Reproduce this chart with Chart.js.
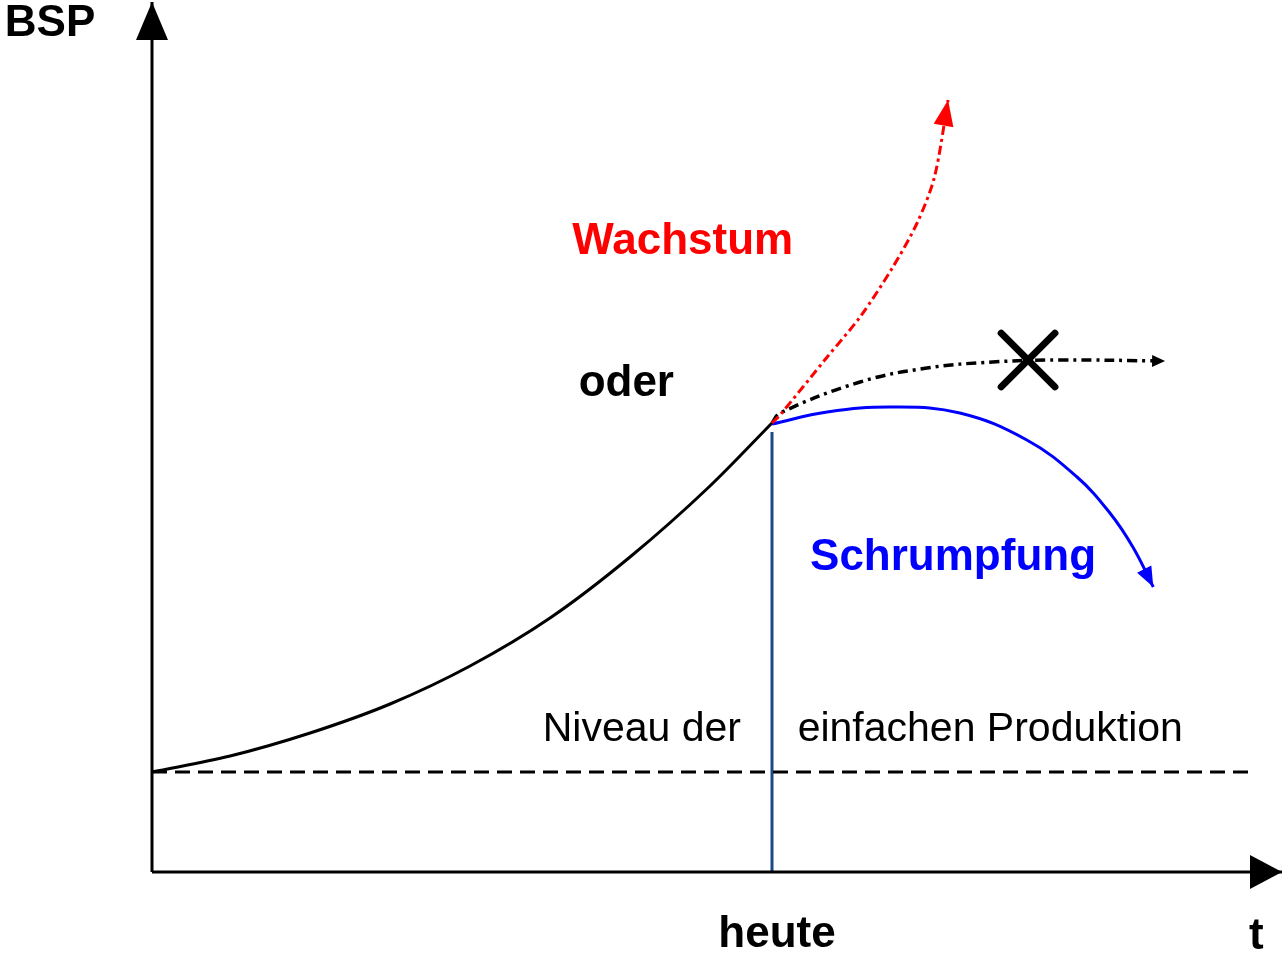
<!DOCTYPE html>
<html>
<head>
<meta charset="utf-8">
<script src="https://cdn.jsdelivr.net/npm/chart.js@4"></script>
<style>
  body { margin: 0; background: #fff; }
  canvas { display: block; }
</style>
</head>
<body>
<canvas id="chart" width="1282" height="955"></canvas>
<script>
// growth curve up to "heute"
const mainX = [0, 1.26, 2.55, 3.84, 5.13, 6.42, 7.71, 9.0, 10];
const mainY = [1.0, 1.16, 1.39, 1.68, 2.06, 2.54, 3.15, 3.86, 4.49];
// Wachstum (red)
const growX = [10, 10.13, 10.89, 11.42, 11.95, 12.34, 12.62, 12.84];
const growY = [4.49, 4.57, 5.15, 5.55, 6.05, 6.49, 6.95, 7.72];
// crossed-out steady path (black)
const flatX = [10, 10.13, 11.42, 12.5, 13.56, 14.65, 16.34];
const flatY = [4.49, 4.59, 4.90, 5.04, 5.10, 5.12, 5.11];
// Schrumpfung (blue)
const shrinkX = [10, 10.89, 11.95, 13.03, 14.11, 14.92, 15.45, 15.82, 16.15];
const shrinkY = [4.48, 4.60, 4.65, 4.59, 4.32, 3.95, 3.59, 3.25, 2.85];
// level of simple production, heute, cross mark
const niveau = 1;
const heute = 10;
const crossPoint = { x: 14.13, y: 5.12 };

const pts = (xs, ys) => xs.map((x, i) => ({ x: x, y: ys[i] }));

const font = 'Arial, "Liberation Sans", sans-serif';

const diagramPlugin = {
  id: 'diagram',
  beforeDatasetDraw(chart, args) {
    if (args.index === 7) chart.ctx.lineCap = 'round';
  },
  afterDatasetDraw(chart, args) {
    if (args.index === 7) chart.ctx.lineCap = 'butt';
  },
  afterDraw(chart) {
    const ctx = chart.ctx;
    const xs = chart.scales.x, ys = chart.scales.y;
    const px = v => xs.getPixelForValue(v);
    const py = v => ys.getPixelForValue(v);

    function arrowHead(index, color, len, half) {
      const data = chart.getDatasetMeta(index).data;
      const a = data[data.length - 2], b = data[data.length - 1];
      const ang = Math.atan2(b.y - a.y, b.x - a.x);
      ctx.save();
      ctx.translate(b.x, b.y);
      ctx.rotate(ang);
      ctx.fillStyle = color;
      ctx.beginPath();
      ctx.moveTo(0, 0);
      ctx.lineTo(-len, -half);
      ctx.lineTo(-len, half);
      ctx.closePath();
      ctx.fill();
      ctx.restore();
    }
    arrowHead(0, '#000', 38, 16);
    arrowHead(1, '#000', 32, 17);
    arrowHead(4, '#ff0000', 26, 10);
    arrowHead(5, '#000', 13, 6);
    arrowHead(6, '#0000ff', 20, 8);

    const labels = [
      { t: 'BSP', x: -1.645, y: 8.48, c: '#000', b: true },
      { t: 'Wachstum', x: 8.56, y: 6.30, c: '#ff0000', b: true },
      { t: 'oder', x: 7.65, y: 4.88, c: '#000', b: true },
      { t: 'Schrumpfung', x: 12.92, y: 3.14, c: '#0000ff', b: true },
      { t: 'Niveau der', x: 7.90, y: 1.42, c: '#000', b: false },
      { t: 'einfachen Produktion', x: 13.52, y: 1.42, c: '#000', b: false },
      { t: 'heute', x: 10.08, y: -0.63, c: '#000', b: true },
      { t: 't', x: 17.81, y: -0.65, c: '#000', b: true }
    ];
    ctx.save();
    ctx.textAlign = 'center';
    ctx.textBaseline = 'middle';
    labels.forEach(l => {
      ctx.font = (l.b ? 'bold 44px ' : '41px ') + font;
      ctx.fillStyle = l.c;
      ctx.fillText(l.t, px(l.x), py(l.y));
    });
    ctx.restore();
  }
};

new Chart(document.getElementById('chart'), {
  type: 'scatter',
  data: {
    datasets: [
      { data: [{ x: 0, y: 0 }, { x: 0, y: 8.70 }], borderColor: '#000', borderWidth: 3 },
      { data: [{ x: 0, y: 0 }, { x: 18.2258, y: 0 }], borderColor: '#000', borderWidth: 3 },
      { data: [{ x: 0, y: niveau }, { x: 17.74, y: niveau }], borderColor: '#000', borderWidth: 3, borderDash: [15, 8] },
      { data: [{ x: heute, y: 0 }, { x: heute, y: 4.40 }], borderColor: '#1a4a8a', borderWidth: 3 },
      { data: pts(growX, growY), borderColor: '#ff0000', borderWidth: 3, borderDash: [9, 4, 3, 4], tension: 0.3 },
      { data: pts(flatX, flatY), borderColor: '#000', borderWidth: 3.5, borderDash: [10, 5, 3, 5], tension: 0.4 },
      { data: pts(shrinkX, shrinkY), borderColor: '#0000ff', borderWidth: 3, tension: 0.4 },
      { data: [crossPoint], showLine: false, pointStyle: 'crossRot', pointRadius: 38, borderColor: '#000', pointBorderWidth: 7 },
      { data: pts(mainX, mainY), borderColor: '#000', borderWidth: 3, cubicInterpolationMode: 'monotone' }
    ].map(d => Object.assign({ showLine: true, pointRadius: 0, fill: false, clip: false }, d))
  },
  options: {
    responsive: false,
    animation: false,
    layout: { padding: 0, autoPadding: false },
    plugins: { legend: { display: false }, tooltip: { enabled: false } },
    scales: {
      x: { type: 'linear', display: false, min: -2.4516, max: 18.2258 },
      y: { type: 'linear', display: false, min: -0.83, max: 8.72 }
    }
  },
  plugins: [diagramPlugin]
});
</script>
</body>
</html>
